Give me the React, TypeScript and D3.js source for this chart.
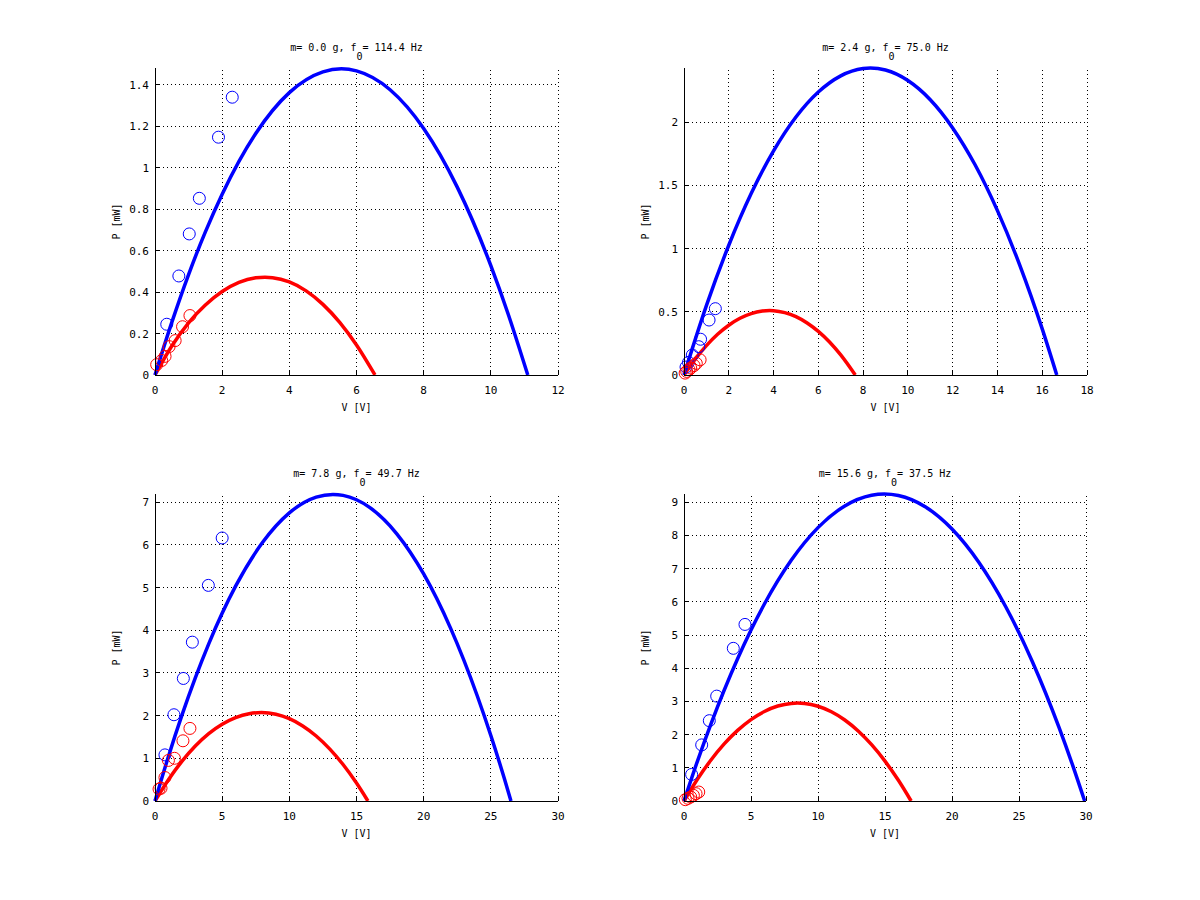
import React from 'react';
import * as d3 from 'd3';

type Pt = [number, number];

/* ---------- data ---------- */
const titlesMass = ['0.0', '2.4', '7.8', '15.6'];
const titlesFreq = ['114.4', '75.0', '49.7', '37.5'];

const xMax = [12, 18, 30, 30];
const yMax = [1.482, 2.43, 7.19, 9.25];
const xTicks = [
  [0, 2, 4, 6, 8, 10, 12],
  [0, 2, 4, 6, 8, 10, 12, 14, 16, 18],
  [0, 5, 10, 15, 20, 25, 30],
  [0, 5, 10, 15, 20, 25, 30],
];
const yTicks = [
  [0, 0.2, 0.4, 0.6, 0.8, 1, 1.2, 1.4],
  [0, 0.5, 1, 1.5, 2],
  [0, 1, 2, 3, 4, 5, 6, 7],
  [0, 1, 2, 3, 4, 5, 6, 7, 8, 9],
];

// fitted curves (blue = open circuit side, red = loaded)
const fitBlue1: Pt[] = [[0, 0], [0.5, 0.254], [1, 0.485], [1.5, 0.691], [2, 0.873], [3, 1.166], [4, 1.363], [5, 1.463], [5.55, 1.478], [6, 1.468], [7, 1.377], [8, 1.19], [9, 0.907], [10, 0.528], [10.5, 0.302], [11.1, 0]];
const fitRed1: Pt[] = [[0, 0], [0.5, 0.14], [1, 0.252], [1.5, 0.338], [2, 0.403], [2.5, 0.447], [3, 0.469], [3.275, 0.472], [3.5, 0.47], [4, 0.449], [4.5, 0.406], [5, 0.341], [5.5, 0.254], [6, 0.145], [6.55, 0]];
const fitBlue2: Pt[] = [[0, 0], [1, 0.549], [2, 1.027], [3, 1.436], [4, 1.774], [5, 2.042], [6, 2.24], [7, 2.368], [8, 2.426], [8.325, 2.43], [9, 2.414], [10, 2.331], [11, 2.179], [12, 1.956], [13, 1.664], [14, 1.301], [15, 0.868], [16, 0.365], [16.65, 0]];
const fitRed2: Pt[] = [[0, 0], [0.5, 0.125], [1, 0.232], [1.5, 0.322], [2, 0.394], [2.5, 0.449], [3, 0.486], [3.5, 0.506], [3.825, 0.51], [4, 0.509], [4.5, 0.494], [5, 0.462], [5.5, 0.412], [6, 0.345], [6.5, 0.261], [7, 0.159], [7.65, 0]];
const fitBlue3: Pt[] = [[0, 0], [1, 1.043], [2, 2.004], [3, 2.883], [4, 3.681], [6, 5.031], [8, 6.053], [10, 6.749], [12, 7.117], [13.25, 7.18], [14, 7.158], [16, 6.871], [18, 6.258], [20, 5.317], [22, 4.049], [24, 2.454], [25, 1.534], [26, 0.532], [26.5, 0]];
const fitRed3: Pt[] = [[0, 0], [1, 0.5], [2, 0.93], [3, 1.29], [4, 1.58], [5, 1.8], [6, 1.955], [7, 2.045], [7.925, 2.07], [9, 2.032], [10, 1.928], [11, 1.758], [12, 1.523], [13, 1.221], [14, 0.854], [15, 0.42], [15.85, 0]];
const fitBlue4: Pt[] = [[0, 0], [1, 1.196], [2, 2.31], [4, 4.288], [6, 5.935], [8, 7.252], [10, 8.237], [12, 8.891], [14, 9.214], [14.95, 9.25], [16, 9.205], [18, 8.866], [20, 8.195], [22, 7.194], [24, 5.861], [26, 4.197], [28, 2.202], [29, 1.08], [29.9, 0]];
const fitRed4: Pt[] = [[0, 0], [1, 0.655], [2, 1.228], [3, 1.719], [4, 2.127], [5, 2.454], [6, 2.698], [7, 2.861], [8, 2.941], [8.475, 2.95], [9, 2.939], [10, 2.854], [11, 2.688], [12, 2.44], [13, 2.109], [14, 1.696], [15, 1.201], [16, 0.624], [16.95, 0]];

// measured points
const measBlue1: Pt[] = [[0.35, 0.245], [0.71, 0.478], [1.02, 0.681], [1.32, 0.853], [1.89, 1.148], [2.3, 1.341]];
const measRed1: Pt[] = [[0.05, 0.05], [0.2, 0.07], [0.3, 0.09], [0.42, 0.137], [0.6, 0.166], [0.82, 0.233], [1.04, 0.287]];
const measBlue2: Pt[] = [[0.09, 0.063], [0.2, 0.1], [0.37, 0.158], [0.66, 0.224], [0.74, 0.283], [1.12, 0.435], [1.4, 0.525]];
const measRed2: Pt[] = [[0.05, 0.015], [0.12, 0.028], [0.22, 0.042], [0.3, 0.055], [0.45, 0.075], [0.55, 0.092], [0.72, 0.12]];
const measBlue3: Pt[] = [[0.74, 1.08], [1.41, 2.02], [2.11, 2.87], [2.78, 3.72], [3.97, 5.05], [5.0, 6.16]];
const measRed3: Pt[] = [[0.3, 0.28], [0.45, 0.3], [0.74, 0.55], [1.0, 0.95], [1.45, 1.0], [2.08, 1.41], [2.6, 1.7]];
const measBlue4: Pt[] = [[0.57, 0.8], [1.32, 1.69], [1.89, 2.42], [2.44, 3.16], [3.68, 4.6], [4.55, 5.32]];
const measRed4: Pt[] = [[0.1, 0.04], [0.3, 0.08], [0.5, 0.12], [0.7, 0.17], [0.9, 0.22], [1.1, 0.27]];

const fitsBlue = [fitBlue1, fitBlue2, fitBlue3, fitBlue4];
const fitsRed = [fitRed1, fitRed2, fitRed3, fitRed4];
const measBlue = [measBlue1, measBlue2, measBlue3, measBlue4];
const measRed = [measRed1, measRed2, measRed3, measRed4];

/* ---------- layout ---------- */
const boxes = [
  { left: 155, right: 558, top: 68, bottom: 375 },
  { left: 684, right: 1087, top: 68, bottom: 375 },
  { left: 155, right: 558, top: 494, bottom: 801 },
  { left: 684, right: 1086, top: 494, bottom: 801 },
];

const FONT = '"DejaVu Sans Mono", "Liberation Mono", monospace';
const BLUE = '#0000ff';
const RED = '#ff0000';

const Panel: React.FC<{ i: number }> = ({ i }) => {
  const b = boxes[i];
  const x = d3.scaleLinear().domain([0, xMax[i]]).range([b.left, b.right]);
  const y = d3.scaleLinear().domain([0, yMax[i]]).range([b.bottom, b.top]);
  const line = d3
    .line<Pt>()
    .x(d => x(d[0]))
    .y(d => y(d[1]))
    .curve(d3.curveMonotoneX);
  const cx = (b.left + b.right) / 2;
  const cy = (b.top + b.bottom) / 2;

  return (
    <g>
      {/* grid */}
      {xTicks[i].filter(t => t !== 0).map(t => (
        <line key={'gx' + t} x1={x(t)} x2={x(t)} y1={b.bottom} y2={b.top}
          stroke="#000" strokeWidth={1} strokeDasharray="1 3" shapeRendering="crispEdges" />
      ))}
      {yTicks[i].filter(t => t !== 0).map(t => (
        <line key={'gy' + t} x1={b.left} x2={b.right} y1={y(t)} y2={y(t)}
          stroke="#000" strokeWidth={1} strokeDasharray="1 3" shapeRendering="crispEdges" />
      ))}

      {/* curves */}
      <path d={line(fitsRed[i]) || ''} fill="none" stroke={RED} strokeWidth={3.5} />
      <path d={line(fitsBlue[i]) || ''} fill="none" stroke={BLUE} strokeWidth={3.5} />

      {/* measurements */}
      {measBlue[i].map((d, k) => (
        <circle key={'mb' + k} cx={x(d[0])} cy={y(d[1])} r={6} fill="none" stroke={BLUE} strokeWidth={1} />
      ))}
      {measRed[i].map((d, k) => (
        <circle key={'mr' + k} cx={x(d[0])} cy={y(d[1])} r={6} fill="none" stroke={RED} strokeWidth={1} />
      ))}

      {/* axes */}
      <line x1={b.left} x2={b.left} y1={b.top} y2={b.bottom} stroke="#000" strokeWidth={1} shapeRendering="crispEdges" />
      <line x1={b.left} x2={b.right} y1={b.bottom} y2={b.bottom} stroke="#000" strokeWidth={1} shapeRendering="crispEdges" />
      {xTicks[i].map(t => (
        <g key={'tx' + t}>
          <line x1={x(t)} x2={x(t)} y1={b.bottom} y2={b.bottom - 4} stroke="#000" shapeRendering="crispEdges" />
          <text x={x(t)} y={b.bottom + 19} textAnchor="middle" fontSize={11} fontFamily={FONT}>{t}</text>
        </g>
      ))}
      {yTicks[i].map(t => (
        <g key={'ty' + t}>
          <line x1={b.left} x2={b.left + 4} y1={y(t)} y2={y(t)} stroke="#000" shapeRendering="crispEdges" />
          <text x={b.left - 6} y={y(t) + 4} textAnchor="end" fontSize={11} fontFamily={FONT}>{t}</text>
        </g>
      ))}

      {/* labels */}
      <text x={cx} y={b.bottom + 36} textAnchor="middle" fontSize={10} fontFamily={FONT}>V [V]</text>
      <text transform={`translate(${b.left - 35},${cy}) rotate(-90)`} textAnchor="middle" fontSize={10} fontFamily={FONT}>P [mW]</text>
      <text x={cx} y={b.top - 17} textAnchor="middle" fontSize={10} fontFamily={FONT}>
        {`m= ${titlesMass[i]} g, f`}
        <tspan dy={9}>0</tspan>
        <tspan dy={-9}>{`= ${titlesFreq[i]} Hz`}</tspan>
      </text>
    </g>
  );
};

export default function App() {
  return (
    <div style={{ position: 'absolute', left: 0, top: 0 }}>
      <svg width={1200} height={900} style={{ display: 'block', background: '#fff' }}>
        <rect width={1200} height={900} fill="#fff" />
        {[0, 1, 2, 3].map(i => <Panel key={i} i={i} />)}
      </svg>
    </div>
  );
}
